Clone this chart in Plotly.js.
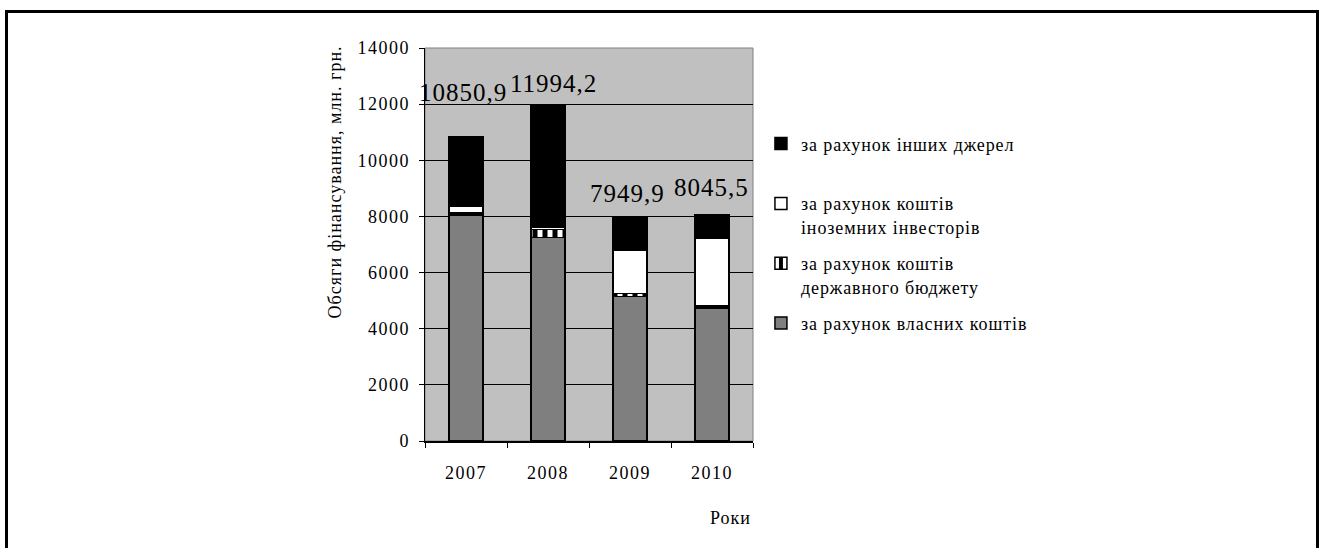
<!DOCTYPE html>
<html>
<head>
<meta charset="utf-8">
<script src="https://cdn.plot.ly/plotly-3.0.1.min.js"></script>
<style>
  html, body { margin: 0; padding: 0; background: #ffffff; overflow: hidden; }
  #wrap { position: relative; width: 1325px; height: 548px; }
  #chart { position: absolute; left: 0; top: 0; width: 1325px; height: 548px; }
  #frame { position: absolute; left: 5px; top: 10px; width: 1308px; height: 600px;
           border: 3px solid #000; pointer-events: none; }
  #err { position: absolute; left: 20px; top: 20px; color: red; font: 12px monospace; }
  text.legendtext { letter-spacing: 0.9px; }
  g.xtick text, g.ytick text { letter-spacing: 1.5px; }
  text.annotation-text { letter-spacing: 1px; }
</style>
</head>
<body>
<div id="wrap">
  <div id="chart"></div>
  <div id="frame"></div>
  <div id="err"></div>
</div>
<script>
window.onerror = function (m) { document.getElementById('err').textContent += ' ' + m; };
// ---- data ----
const years = ['2007', '2008', '2009', '2010'];
const ownFunds      = [8050, 7250, 5140, 4730];     // за рахунок власних коштів
const stateBudget   = [70, 280, 120, 80];           // за рахунок коштів державного бюджету
const foreignInv    = [260, 100, 1520, 2410];       // за рахунок коштів іноземних інвесторів
const otherSources  = [2470.9, 4364.2, 1169.9, 825.5]; // за рахунок інших джерел
const totals        = [10850.9, 11994.2, 7949.9, 8045.5];
const totalLabels   = ['10850,9', '11994,2', '7949,9', '8045,5'];
const yTicks        = [0, 2000, 4000, 6000, 8000, 10000, 12000, 14000];

const seriesNames = [
  'за рахунок власних коштів<br> ',
  'за рахунок коштів<br>державного бюджету',
  'за рахунок коштів<br>іноземних інвесторів',
  'за рахунок інших джерел<br> '
];

// ---- style ----
const serif = 'Times New Roman, Liberation Serif, serif';
const labelShiftY = [44, 21, 25, 28];
const labelShiftX = [-3, 5, -3, -1];

const line = {color: '#000000', width: 1.5};
const traces = [
  {x: years, y: ownFunds, name: seriesNames[0], type: 'bar', legendgroup: 'a', legendrank: 4,
   marker: {color: '#7f7f7f', line: line}},
  {x: years, y: stateBudget, name: seriesNames[1], type: 'bar', legendgroup: 'b', legendrank: 3,
   marker: {color: '#000000', line: line,
            pattern: {shape: '|', fgcolor: '#ffffff', bgcolor: '#000000', size: 10, solidity: 0.5}}},
  {x: years, y: foreignInv, name: seriesNames[2], type: 'bar', legendgroup: 'c', legendrank: 2,
   marker: {color: '#ffffff', line: line}},
  {x: years, y: otherSources, name: seriesNames[3], type: 'bar', legendgroup: 'd', legendrank: 1,
   marker: {color: '#000000', line: line}}
];

const annotations = years.map((yr, i) => ({
  x: i, y: totals[i], xref: 'x', yref: 'y',
  text: totalLabels[i], showarrow: false,
  yanchor: 'bottom', xanchor: 'center',
  xshift: labelShiftX[i], yshift: labelShiftY[i] - 16,
  font: {family: serif, size: 25, color: '#000'}
}));
annotations.push({
  xref: 'paper', yref: 'paper', x: 1, y: -0.195, xanchor: 'right', yanchor: 'middle',
  text: 'Роки', showarrow: false, font: {family: serif, size: 18, color: '#000'}
});
annotations.push({
  xref: 'paper', yref: 'paper', x: -0.275, y: 0.66, xanchor: 'center', yanchor: 'middle',
  textangle: -90, text: 'Обсяги фінансування, млн. грн.', showarrow: false,
  font: {family: serif, size: 18, color: '#000'}
});

const layout = {
  width: 1325, height: 548,
  margin: {l: 425, r: 572, t: 48, b: 107, pad: 0, autoexpand: false},
  paper_bgcolor: '#ffffff',
  plot_bgcolor: '#c0c0c0',
  barmode: 'stack',
  bargap: 0.58,
  font: {family: serif, size: 18, color: '#000'},
  showlegend: true,
  legend: {
    xref: 'container', yref: 'container',
    x: 0.5743, y: 0.7712, xanchor: 'left', yanchor: 'top',
    traceorder: 'grouped', tracegroupgap: 10,
    valign: 'top', bgcolor: 'rgba(0,0,0,0)',
    font: {family: serif, size: 18, color: '#000'}
  },
  xaxis: {
    type: 'category', range: [-0.5, 3.5], autorange: false,
    showline: true, linecolor: '#000', linewidth: 1.5,
    ticks: 'outside', tickson: 'boundaries', ticklen: 5, tickcolor: '#000', tickwidth: 1,
    showgrid: false, zeroline: false, tickangle: 0, ticklabelstandoff: 15,
    tickfont: {family: serif, size: 18, color: '#000'}
  },
  yaxis: {
    range: [0, 14000], autorange: false, tickvals: yTicks, ticktext: yTicks.map(String),
    showline: true, linecolor: '#000', linewidth: 1.5,
    ticks: 'outside', ticklen: 5, tickcolor: '#000', tickwidth: 1,
    showgrid: true, gridcolor: '#000', gridwidth: 1, zeroline: false, ticklabelstandoff: 5,
    tickfont: {family: serif, size: 18, color: '#000'}
  },
  shapes: [
    {type: 'rect', xref: 'paper', yref: 'paper', x0: 0, x1: 1, y0: 0, y1: 1,
     line: {color: '#808080', width: 1}, fillcolor: 'rgba(0,0,0,0)', layer: 'below'}
  ],
  annotations: annotations
};

Plotly.newPlot('chart', traces, layout, {staticPlot: true})
  .catch(e => { document.getElementById('err').textContent += ' ' + e; });
</script>
</body>
</html>
